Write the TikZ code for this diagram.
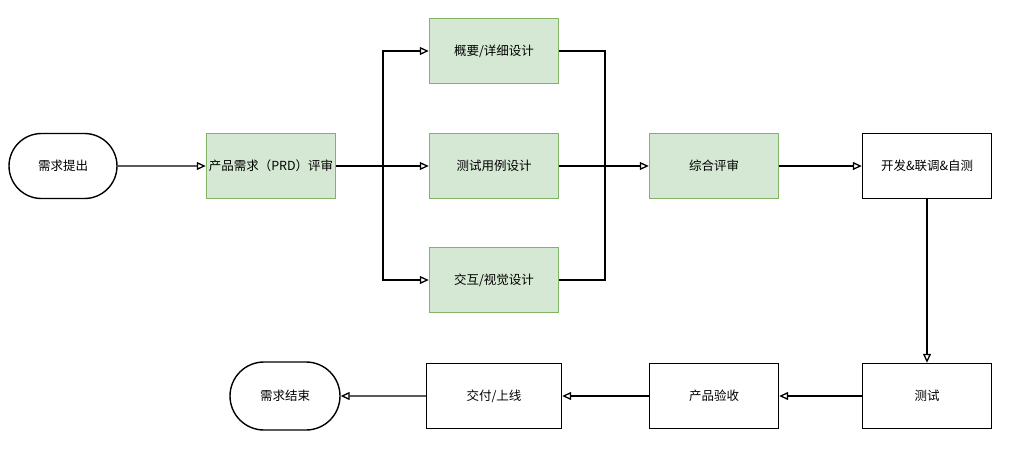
\documentclass[tikz,border=0pt]{standalone}
\usepackage{fontspec}
\setmainfont{Noto Sans CJK SC}
\usetikzlibrary{arrows.meta,shapes.misc}
\definecolor{gfill}{HTML}{D5E8D4}
\definecolor{gline}{HTML}{82B366}
\begin{document}
\begin{tikzpicture}[x=1pt,y=-1pt,
  every node/.style={font=\fontsize{12.5}{15}\selectfont, text=black},
  box/.style={draw=black, line width=1.4pt, fill=white, minimum width=129pt, minimum height=65pt, inner sep=0pt},
  gbox/.style={box, draw=gline, fill=gfill, line width=1.5pt},
  term/.style={draw=black, line width=1.4pt, rounded rectangle, minimum width=108pt, minimum height=65pt, inner sep=0pt},
  conn/.style={draw=black, line width=1.4pt},
  arr/.style={conn, -{Triangle[open, length=9pt, width=8pt, line width=1.3pt]}}
]
\useasboundingbox (0,0) rectangle (1012,451);
\node[term] (start) at (63,166) {需求提出};
\node[gbox] (prd) at (271,166) {产品需求（PRD）评审};
\node[gbox] (d1) at (494,51) {概要/详细设计};
\node[gbox] (d2) at (494,166) {测试用例设计};
\node[gbox] (d3) at (494,280) {交互/视觉设计};
\node[gbox] (rev) at (714,166) {综合评审};
\node[box] (dev) at (927,166) {开发\&联调\&自测};
\node[box] (test) at (927,396) {测试};
\node[box] (acc) at (714,396) {产品验收};
\node[box, minimum width=135pt] (rel) at (494,396) {交付/上线};
\node[term, minimum width=110pt, minimum height=68pt] (end) at (285,396) {需求结束};

\coordinate (sp) at (383,166);
\coordinate (mg) at (605,166);

\draw[arr] (start) -- (prd);
\draw[conn] (prd.east) -- (sp);
\draw[arr] (sp) |- (d1.west);
\draw[arr] (sp) -- (d2.west);
\draw[arr] (sp) |- (d3.west);
\draw[conn] (d1.east) -| (mg);
\draw[conn] (d2.east) -- (mg);
\draw[conn] (d3.east) -| (mg);
\draw[arr] (mg) -- (rev.west);
\draw[arr] (rev) -- (dev);
\draw[arr] (dev) -- (test);
\draw[arr] (test) -- (acc);
\draw[arr] (acc) -- (rel);
\draw[arr] (rel) -- (end);
\end{tikzpicture}
\end{document}
